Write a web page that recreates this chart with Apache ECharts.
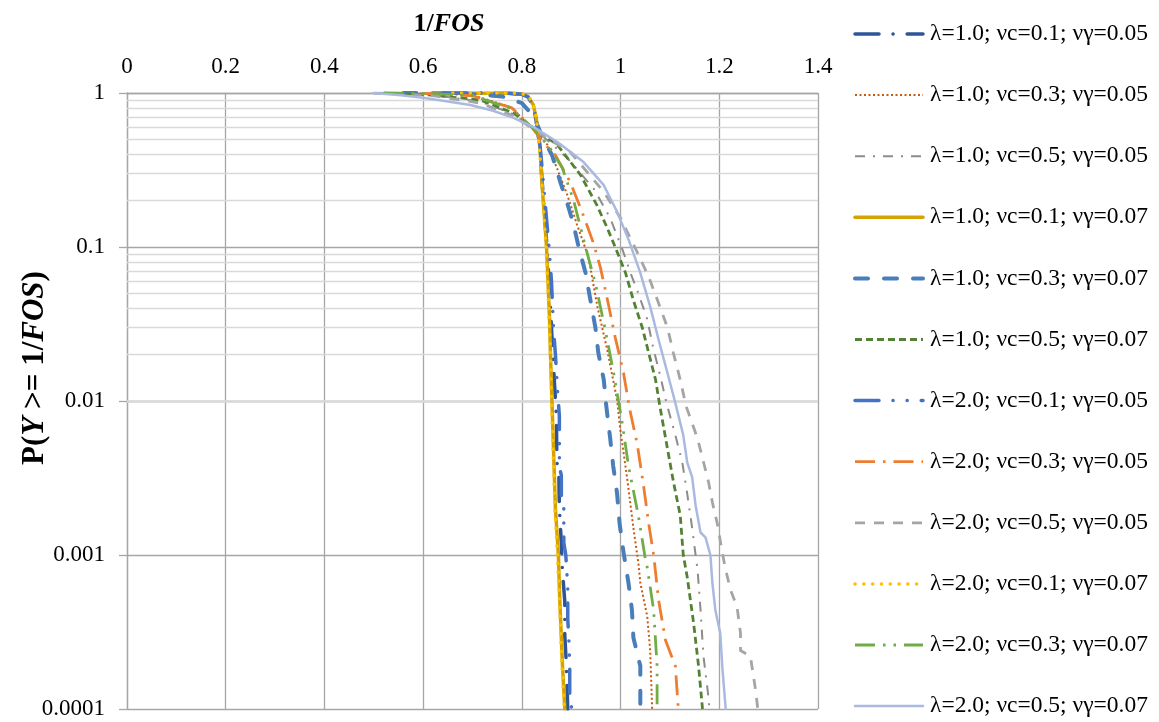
<!DOCTYPE html>
<html>
<head>
<meta charset="utf-8">
<script src="https://cdn.jsdelivr.net/npm/echarts@6.0.0/dist/echarts.min.js"></script>
<style>
  html, body { margin: 0; padding: 0; background: #fff; }
  #chart { width: 1159px; height: 722px; }
</style>
</head>
<body>
<div id="chart"></div>
<script>
// Exceedance curves: [1/FOS, P(Y >= 1/FOS)]
const names = [
  'λ=1.0; νc=0.1; νγ=0.05',
  'λ=1.0; νc=0.3; νγ=0.05',
  'λ=1.0; νc=0.5; νγ=0.05',
  'λ=1.0; νc=0.1; νγ=0.07',
  'λ=1.0; νc=0.3; νγ=0.07',
  'λ=1.0; νc=0.5; νγ=0.07',
  'λ=2.0; νc=0.1; νγ=0.05',
  'λ=2.0; νc=0.3; νγ=0.05',
  'λ=2.0; νc=0.5; νγ=0.05',
  'λ=2.0; νc=0.1; νγ=0.07',
  'λ=2.0; νc=0.3; νγ=0.07',
  'λ=2.0; νc=0.5; νγ=0.07'
];

const l1c1g05 = [[0.64,1],[0.77,0.997],[0.80,0.98],[0.813,0.94],[0.824,0.82],[0.831,0.6],[0.836,0.45],[0.840,0.3],[0.845,0.18],[0.851,0.1],[0.855,0.06],[0.860,0.03],[0.865,0.015],[0.870,0.008],[0.871,0.004],[0.875,0.0033],[0.876,0.002],[0.880,0.0012],[0.882,0.0008],[0.887,0.0005],[0.887,0.0003],[0.890,0.0002],[0.893,0.0001]];
const l1c3g05 = [[0.52,1],[0.62,0.99],[0.70,0.97],[0.777,0.81],[0.82,0.6],[0.852,0.46],[0.872,0.32],[0.892,0.218],[0.912,0.139],[0.935,0.086],[0.953,0.041],[0.973,0.0215],[0.993,0.0101],[0.999,0.0067],[1.013,0.0032],[1.026,0.0015],[1.036,0.00089],[1.040,0.00066],[1.054,0.0004],[1.060,0.00024],[1.064,0.0001]];
const l1c5g05 = [[0.52,1],[0.62,0.97],[0.716,0.88],[0.783,0.73],[0.838,0.54],[0.892,0.378],[0.945,0.241],[0.979,0.154],[1.003,0.098],[1.020,0.068],[1.036,0.05],[1.054,0.034],[1.067,0.0215],[1.081,0.0143],[1.093,0.0097],[1.111,0.006],[1.125,0.004],[1.135,0.0025],[1.145,0.0015],[1.152,0.001],[1.156,0.0008],[1.162,0.00044],[1.168,0.00022],[1.178,0.00012],[1.18,0.0001]];
const l1c1g07 = [[0.66,1],[0.78,0.998],[0.80,0.985],[0.812,0.95],[0.823,0.84],[0.829,0.69],[0.835,0.51],[0.838,0.38],[0.841,0.25],[0.845,0.17],[0.850,0.1],[0.853,0.06],[0.856,0.035],[0.858,0.02],[0.861,0.01],[0.864,0.005],[0.868,0.002],[0.874,0.001],[0.877,0.0005],[0.882,0.0002],[0.887,0.0001]];
const l1c3g07 = [[0.56,1],[0.66,0.995],[0.72,0.975],[0.76,0.95],[0.80,0.86],[0.825,0.7],[0.840,0.53],[0.861,0.396],[0.878,0.264],[0.891,0.197],[0.905,0.139],[0.915,0.1],[0.929,0.068],[0.939,0.045],[0.949,0.030],[0.955,0.0205],[0.966,0.0137],[0.971,0.0093],[0.979,0.0057],[0.985,0.0038],[0.993,0.0025],[0.998,0.0016],[1.006,0.00104],[1.016,0.00066],[1.023,0.00044],[1.026,0.00029],[1.040,0.00019],[1.040,0.0001]];
const l1c5g07 = [[0.52,1],[0.62,0.97],[0.716,0.9],[0.783,0.74],[0.838,0.55],[0.872,0.46],[0.919,0.293],[0.952,0.187],[0.973,0.133],[0.989,0.1],[1.010,0.068],[1.026,0.045],[1.044,0.030],[1.057,0.0205],[1.071,0.0137],[1.079,0.0095],[1.095,0.0049],[1.107,0.0030],[1.121,0.0018],[1.127,0.001],[1.135,0.00072],[1.148,0.00036],[1.158,0.00019],[1.166,0.0001]];
const l2c1g05 = [[0.64,1],[0.77,0.997],[0.80,0.98],[0.813,0.94],[0.824,0.82],[0.831,0.6],[0.837,0.45],[0.842,0.3],[0.848,0.18],[0.855,0.1],[0.860,0.06],[0.864,0.03],[0.868,0.02],[0.872,0.012],[0.876,0.008],[0.876,0.004],[0.878,0.0035],[0.880,0.0033],[0.880,0.0021],[0.885,0.002],[0.885,0.0012],[0.889,0.001],[0.893,0.00062],[0.893,0.00038],[0.895,0.0003],[0.897,0.00019],[0.897,0.00011],[0.902,0.0001]];
const l2c3g05 = [[0.52,1],[0.62,0.99],[0.70,0.96],[0.78,0.8],[0.82,0.6],[0.845,0.47],[0.868,0.395],[0.898,0.264],[0.922,0.169],[0.945,0.106],[0.959,0.074],[0.975,0.043],[0.989,0.026],[1.006,0.0152],[1.018,0.009],[1.034,0.0052],[1.046,0.0029],[1.057,0.0016],[1.067,0.001],[1.077,0.00051],[1.091,0.00028],[1.111,0.00019],[1.117,0.0001]];
const l2c5g05 = [[0.50,1],[0.62,0.96],[0.716,0.86],[0.783,0.71],[0.838,0.54],[0.898,0.414],[0.966,0.228],[1.0,0.154],[1.032,0.095],[1.057,0.064],[1.075,0.045],[1.095,0.030],[1.107,0.0205],[1.121,0.0137],[1.133,0.0092],[1.156,0.0057],[1.178,0.0030],[1.186,0.0022],[1.196,0.0016],[1.206,0.00104],[1.213,0.0008],[1.223,0.00059],[1.236,0.00046],[1.243,0.00031],[1.243,0.00024],[1.263,0.00022],[1.274,0.00013],[1.278,0.0001]];
const l2c1g07 = [[0.66,1],[0.79,0.998],[0.805,0.98],[0.815,0.94],[0.824,0.82],[0.83,0.66],[0.834,0.5],[0.838,0.35],[0.842,0.22],[0.849,0.1],[0.853,0.05],[0.857,0.025],[0.860,0.01],[0.863,0.005],[0.867,0.002],[0.872,0.001],[0.876,0.0005],[0.881,0.0002],[0.886,0.0001]];
const l2c3g07 = [[0.52,1],[0.62,0.99],[0.70,0.96],[0.78,0.79],[0.82,0.6],[0.855,0.45],[0.882,0.326],[0.905,0.2],[0.929,0.1],[0.949,0.058],[0.968,0.030],[0.986,0.0152],[1.003,0.0073],[1.016,0.0038],[1.036,0.0018],[1.050,0.00095],[1.054,0.00083],[1.067,0.00044],[1.074,0.00019],[1.074,0.0001]];
const l2c5g07 = [[0.498,1],[0.55,0.97],[0.60,0.93],[0.65,0.88],[0.696,0.836],[0.740,0.77],[0.783,0.69],[0.824,0.6],[0.872,0.48],[0.925,0.356],[0.966,0.252],[0.993,0.169],[1.017,0.11],[1.040,0.068],[1.060,0.041],[1.077,0.025],[1.095,0.0152],[1.111,0.0097],[1.127,0.006],[1.135,0.004],[1.145,0.0032],[1.152,0.0021],[1.162,0.0014],[1.172,0.0013],[1.182,0.001],[1.186,0.00066],[1.192,0.00044],[1.202,0.00031],[1.206,0.00019],[1.213,0.0001]];

const curves = [l1c1g05, l1c3g05, l1c5g05, l1c1g07, l1c3g07, l1c5g07,
                l2c1g05, l2c3g05, l2c5g05, l2c1g07, l2c3g07, l2c5g07];

const xTicks = { min: 0, max: 1.4, step: 0.2 };
const yTickLabels = ['0.0001', '0.001', '0.01', '0.1', '1'];

// Line look per series: colour, width, dash pattern, cap
const styles = [
  { color: '#2F5597', width: 3.5, type: [24, 14, 0.1, 14], cap: 'round' },
  { color: '#C55A11', width: 2,   type: [2, 2.5], cap: 'butt' },
  { color: '#8C8C8C', width: 2,   type: [10, 8, 2, 8], cap: 'butt' },
  { color: '#D4A300', width: 3.5, type: 'solid', cap: 'round' },
  { color: '#4A7EBB', width: 4,   type: [13, 16], cap: 'round' },
  { color: '#548235', width: 2.8, type: [7, 4], cap: 'butt' },
  { color: '#4472C4', width: 3.5, type: [24, 14, 0.1, 14, 0.1, 14], cap: 'round' },
  { color: '#ED7D31', width: 2.8, type: [20, 8, 2.5, 8], cap: 'butt' },
  { color: '#A5A5A5', width: 2.8, type: [10, 9], cap: 'butt' },
  { color: '#FFC000', width: 3.5, type: [0.1, 8.7], cap: 'round' },
  { color: '#70AD47', width: 2.8, type: [20, 8, 2.5, 8, 2.5, 8], cap: 'butt' },
  { color: '#A9B9E0', width: 2.5, type: 'solid', cap: 'round' }
];

// Minor log grid values (2..9 of each decade)
const minorGrid = [];
[0.0001, 0.001, 0.01, 0.1].forEach(function (d) {
  for (let k = 2; k <= 9; k++) minorGrid.push(+(d * k).toPrecision(3));
});

const FONT = '"Liberation Serif", "Times New Roman", serif';

const series = curves.map(function (data, i) {
  const s = styles[i];
  return {
    name: names[i],
    type: 'line',
    data: data,
    symbol: 'none',
    showSymbol: false,
    smooth: false,
    clip: true,
    z: 3 + i,
    lineStyle: { color: s.color, width: s.width, type: s.type, cap: s.cap, join: 'round' },
    itemStyle: { color: s.color },
    emphasis: { disabled: true }
  };
});

// Helper carrying the minor horizontal grid lines
series.unshift({
  name: '__minorGrid',
  type: 'line',
  data: [],
  symbol: 'none',
  silent: true,
  z: 1,
  markLine: {
    silent: true,
    symbol: ['none', 'none'],
    z: 1,
    animation: false,
    label: { show: false },
    emphasis: { disabled: true },
    lineStyle: { color: '#D9D9D9', width: 1.3, type: 'solid' },
    data: minorGrid.map(function (v) { return { yAxis: v }; })
  }
});

const chart = echarts.init(document.getElementById('chart'), null, { renderer: 'canvas' });

chart.setOption({
  animation: false,
  backgroundColor: '#ffffff',
  grid: { left: 127, right: 341, top: 93, bottom: 13, containLabel: false, outerBoundsMode: 'none' },
  xAxis: {
    type: 'value',
    position: 'top',
    min: xTicks.min,
    max: xTicks.max,
    interval: xTicks.step,
    axisLine: { show: true, lineStyle: { color: '#A6A6A6', width: 1.3 } },
    axisTick: { show: false },
    axisLabel: {
      margin: 15,
      fontFamily: FONT,
      fontSize: 23,
      color: '#000',
      formatter: function (v) { return String(+v.toFixed(1)); }
    },
    splitLine: { show: true, lineStyle: { color: '#A6A6A6', width: 1.3 } }
  },
  yAxis: {
    type: 'log',
    logBase: 10,
    min: 0.0001,
    max: 1,
    axisLine: { show: true, lineStyle: { color: '#A6A6A6', width: 1.3 } },
    axisTick: { show: true, inside: false, length: 8, lineStyle: { color: '#A6A6A6', width: 1.3 } },
    axisLabel: {
      margin: 22,
      fontFamily: FONT,
      fontSize: 23,
      color: '#000',
      formatter: function (v) {
        const idx = Math.round(Math.log10(v)) + 4;
        return yTickLabels[idx] !== undefined ? yTickLabels[idx] : '';
      }
    },
    splitLine: { show: true, lineStyle: { color: '#A6A6A6', width: 1.3 } },
    minorTick: { show: false },
    minorSplitLine: { show: false }
  },
  legend: {
    orient: 'vertical',
    left: 853,
    top: 22,
    height: 700,
    padding: 0,
    itemWidth: 68,
    itemHeight: 24,
    itemGap: 37.1,
    selectedMode: false,
    textStyle: { fontFamily: FONT, fontSize: 23.5, lineHeight: 24, color: '#000', padding: [0, 0, 0, 2] },
    data: names.map(function (n, i) {
      const s = styles[i];
      return {
        name: n,
        itemStyle: { opacity: 0, borderWidth: 0 },
        lineStyle: { color: s.color, width: s.width, type: s.type, cap: s.cap, opacity: 1 }
      };
    })
  },
  graphic: [
    {
      type: 'text',
      x: 449,
      y: 24,
      silent: true,
      style: {
        text: '{b|1/}{bi|FOS}',
        align: 'center',
        verticalAlign: 'middle',
        rich: {
          b: { fontFamily: FONT, fontSize: 26, fontWeight: 'bold', fill: '#000', color: '#000' },
          bi: { fontFamily: FONT, fontSize: 26, fontWeight: 'bold', fontStyle: 'italic', fill: '#000', color: '#000' }
        }
      }
    },
    {
      type: 'text',
      x: 35,
      y: 368,
      rotation: Math.PI / 2,
      silent: true,
      style: {
        text: '{b|P(}{bi|Y}{b| >= 1/}{bi|FOS}{b|)}',
        align: 'center',
        verticalAlign: 'middle',
        rich: {
          b: { fontFamily: FONT, fontSize: 31, fontWeight: 'bold', fill: '#000', color: '#000' },
          bi: { fontFamily: FONT, fontSize: 31, fontWeight: 'bold', fontStyle: 'italic', fill: '#000', color: '#000' }
        }
      }
    }
  ],
  series: series
});
</script>
</body>
</html>
